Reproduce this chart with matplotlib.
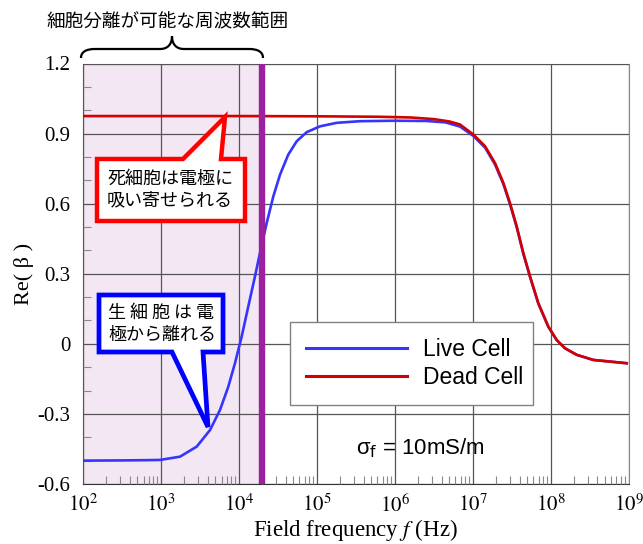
import numpy as np
import matplotlib
matplotlib.use("Agg")
import matplotlib.pyplot as plt
from matplotlib.patches import Polygon, PathPatch
from matplotlib.path import Path
from matplotlib.ticker import FixedLocator, FixedFormatter, LogLocator, NullFormatter

# ---------------- data ----------------
live_exp = [2.0, 2.5, 2.8, 2.988, 3.245, 3.459, 3.63, 3.758, 3.865, 3.95, 4.036, 4.121,
            4.207, 4.271, 4.357, 4.442, 4.528, 4.634, 4.742, 4.87, 5.041, 5.255, 5.554,
            6.0, 6.4, 6.65, 6.838, 7.009, 7.159, 7.287, 7.394, 7.479, 7.565, 7.65,
            7.736, 7.843, 7.971, 8.078, 8.185, 8.335, 8.549, 8.977]
live_val = [-0.500, -0.499, -0.498, -0.497, -0.483, -0.440, -0.369, -0.283, -0.183,
            -0.083, 0.031, 0.160, 0.289, 0.389, 0.517, 0.631, 0.724, 0.810, 0.867,
            0.906, 0.931, 0.946, 0.953, 0.955, 0.954, 0.948, 0.930, 0.890, 0.840,
            0.768, 0.684, 0.598, 0.500, 0.386, 0.287, 0.172, 0.073, 0.016, -0.019,
            -0.047, -0.069, -0.083]

dead_exp = [2.0, 4.0, 5.0, 5.8, 6.2, 6.5, 6.7, 6.838, 7.009, 7.159, 7.287, 7.394,
            7.479, 7.565, 7.65, 7.736, 7.843, 7.971, 8.078, 8.185, 8.335, 8.549, 8.977]
dead_val = [0.975, 0.975, 0.974, 0.972, 0.969, 0.962, 0.952, 0.939, 0.896, 0.846,
            0.774, 0.689, 0.603, 0.503, 0.389, 0.289, 0.174, 0.074, 0.017, -0.019,
            -0.047, -0.069, -0.083]

series_labels = ["Live Cell", "Dead Cell"]
yticks = [-0.6, -0.3, 0.0, 0.3, 0.6, 0.9, 1.2]
ytick_labels = ["-0.6", "-0.3", "0", "0.3", "0.6", "0.9", "1.2"]
xtick_exps = [2, 3, 4, 5, 6, 7, 8, 9]
sep_limit = 2e4          # upper frequency of the separable range
sep_start = 1e2

title_text = "細胞分離が可能な周波数範囲"
dead_note = "死細胞は電極に\n吸い寄せられる"
live_note = "生 細 胞 は 電\n極から離れる"
cond_text = r"σ$_{\mathrm{f}}$ = 10mS/m"

# ---------------- figure ----------------
W, H = 643, 544
fig = plt.figure(figsize=(W / 100, H / 100), dpi=100)
plt.rcParams['mathtext.fontset'] = 'stix'

def px(x, y):
    return (x / W, 1 - y / H)

ax = fig.add_axes([83 / W, 1 - 484 / H, (628.5 - 83) / W, (484 - 63.5) / H])
ax.set_xscale('log')
ax.set_xlim(1e2, 1e9)
ax.set_ylim(-0.6, 1.2)

ax.axvspan(sep_start, sep_limit, color='#f3e7f3', zorder=0, lw=0)

live_f = [10 ** e for e in live_exp]
dead_f = [10 ** e for e in dead_exp]
ax.plot(live_f, live_val, color='#3535ff', lw=1.9, label=series_labels[0], zorder=4,
        solid_joinstyle='round')
ax.plot(dead_f, dead_val, color='#d40000', lw=1.9, label=series_labels[1], zorder=5,
        solid_joinstyle='round')
ax.axvline(sep_limit, color='#9b219e', lw=4.6, zorder=6)

# ticks
ax.xaxis.set_major_locator(FixedLocator([10.0 ** e for e in xtick_exps]))
ax.xaxis.set_major_formatter(FixedFormatter([rf"$10^{{{e}}}$" for e in xtick_exps]))
ax.xaxis.set_minor_locator(LogLocator(base=10, subs=np.arange(2, 10), numticks=20))
ax.xaxis.set_minor_formatter(NullFormatter())
ax.yaxis.set_major_locator(FixedLocator(yticks))
ax.yaxis.set_major_formatter(FixedFormatter(ytick_labels))
ax.yaxis.set_minor_locator(FixedLocator(np.arange(-0.6, 1.21, 0.1)))

ax.tick_params(which='major', length=0, pad=7, labelsize=15)
ax.tick_params(axis='y', which='major', pad=9)
ax.tick_params(which='minor', direction='in', length=6, width=0.8, color='#888888')
ax.tick_params(axis='x', which='minor', top=False)
ax.tick_params(axis='y', which='minor', right=False)
for lab in ax.get_yticklabels():
    lab.set_fontfamily('Liberation Serif')

ax.grid(True, which='major', color='#555555', lw=0.9, zorder=1)
ax.set_axisbelow(False)
for gl in ax.get_xgridlines() + ax.get_ygridlines():
    gl.set_zorder(1)

ax.spines['left'].set_color('#333333')
ax.spines['bottom'].set_color('#333333')
ax.spines['top'].set_color('#888888')
ax.spines['right'].set_color('#888888')

fig.text(*px(355, 530), "Field frequency $f$ (Hz)", fontsize=16.5, family='Liberation Serif',
         ha='center', va='center')
fig.text(*px(24, 274), "Re( β )", rotation=90, fontsize=16, family='Liberation Serif',
         ha='center', va='center')

# legend
leg = ax.legend(loc='upper left',
                bbox_to_anchor=(290 / W, 1 - 402 / H, (533 - 290) / W, 80 / H),
                bbox_transform=fig.transFigure, mode='expand', fancybox=False, framealpha=1,
                edgecolor='#808080', prop={'family': 'Liberation Sans', 'size': 16.5},
                handlelength=4.4, handletextpad=0.7, labelspacing=0.2, borderpad=0.7,
                borderaxespad=0)
leg.get_frame().set_linewidth(1.0)
for ln in leg.get_lines():
    ln.set_linewidth(2.2)

fig.text(*px(420, 448), cond_text, fontsize=16, family='Liberation Sans',
         math_fontfamily='dejavusans', ha='center', va='center')

# brace and title
cjk = ['Noto Sans CJK JP', 'DejaVu Sans']
fig.text(*px(167.5, 22), title_text, fontsize=13.4, family=cjk, ha='center', va='center')
bpts = [(81, 58), (81, 52), (86, 49), (95, 49), (160, 49), (168, 49), (172, 44), (172, 36),
        (172, 44), (176, 49), (184, 49), (249, 49), (258, 49), (263, 52), (263, 58)]
codes = [Path.MOVETO, Path.CURVE4, Path.CURVE4, Path.CURVE4, Path.LINETO,
         Path.CURVE4, Path.CURVE4, Path.CURVE4, Path.CURVE4, Path.CURVE4, Path.CURVE4,
         Path.LINETO, Path.CURVE4, Path.CURVE4, Path.CURVE4]
brace = PathPatch(Path([px(*p) for p in bpts], codes), transform=fig.transFigure,
                  fill=False, lw=1.6, color='black')
fig.add_artist(brace)

# red callout
red_poly = [(97, 159), (183, 159), (225, 117), (221, 159), (245, 159), (245, 221), (97, 221)]
fig.add_artist(Polygon([px(*p) for p in red_poly], closed=True, transform=fig.transFigure,
                       facecolor='white', edgecolor='#ff0000', lw=3.2, joinstyle='miter',
                       zorder=10))
fig.text(*px(107, 190), dead_note, fontsize=13, family=cjk, ha='left', va='center',
         linespacing=1.25, zorder=11)

# blue callout
blue_poly = [(99, 295), (223, 295), (223, 352), (203, 352), (208, 427), (172, 352), (99, 352)]
fig.add_artist(Polygon([px(*p) for p in blue_poly], closed=True, transform=fig.transFigure,
                       facecolor='white', edgecolor='#0000ff', lw=3.4, joinstyle='miter',
                       zorder=10))
fig.text(*px(108, 324), live_note, fontsize=13, family=cjk, ha='left', va='center',
         linespacing=1.25, zorder=11)

fig.savefig("out.png", dpi=100)
